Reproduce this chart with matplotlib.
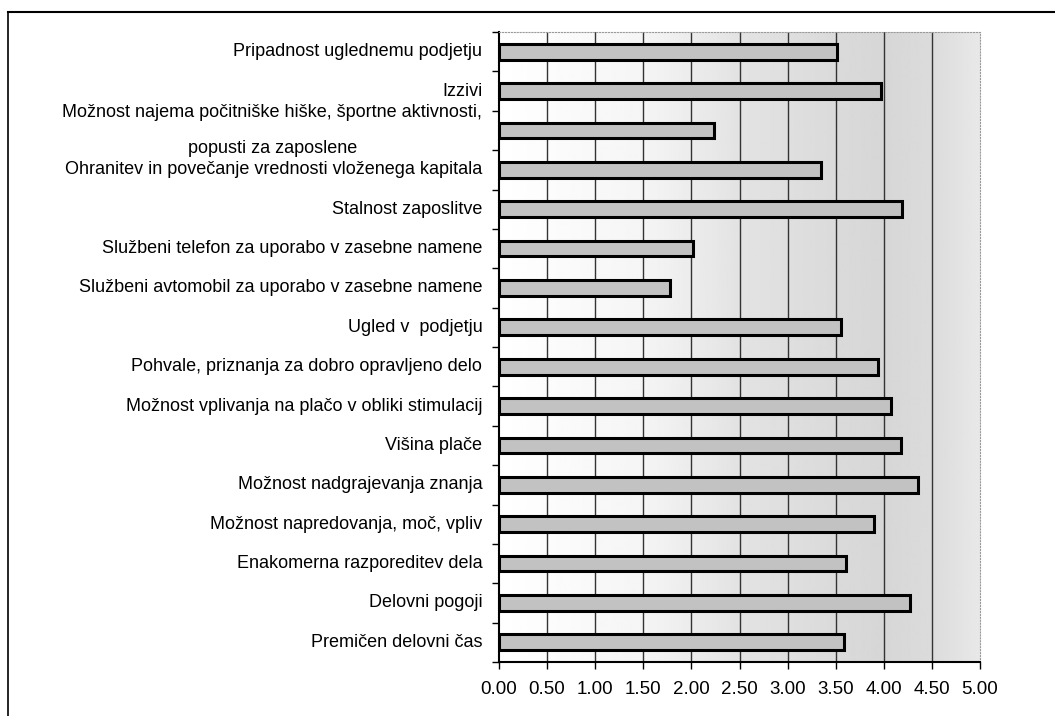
import numpy as np
import matplotlib.pyplot as plt
from matplotlib.colors import LinearSegmentedColormap
from matplotlib.lines import Line2D

plt.rcParams['font.family'] = ['Liberation Sans', 'DejaVu Sans']

# motivacijski dejavniki, od zgoraj navzdol
labels = [
    "Pripadnost uglednemu podjetju",
    "Izzivi",
    "Možnost najema počitniške hiške, športne aktivnosti,\npopusti za zaposlene",
    "Ohranitev in povečanje vrednosti vloženega kapitala",
    "Stalnost zaposlitve",
    "Službeni telefon za uporabo v zasebne namene",
    "Službeni avtomobil za uporabo v zasebne namene",
    "Ugled v  podjetju",
    "Pohvale, priznanja za dobro opravljeno delo",
    "Možnost vplivanja na plačo v obliki stimulacij",
    "Višina plače",
    "Možnost nadgrajevanja znanja",
    "Možnost napredovanja, moč, vpliv",
    "Enakomerna razporeditev dela",
    "Delovni pogoji",
    "Premičen delovni čas",
]
values = [3.51, 3.97, 2.23, 3.35, 4.19, 2.02, 1.78, 3.55,
          3.94, 4.07, 4.18, 4.36, 3.90, 3.61, 4.27, 3.59]
xticks = [0.0, 0.5, 1.0, 1.5, 2.0, 2.5, 3.0, 3.5, 4.0, 4.5, 5.0]

fig = plt.figure(figsize=(10.55, 7.16), dpi=100)
ax = fig.add_axes([499 / 1055, 54 / 716, 481 / 1055, 630 / 716])

n = len(labels)
y = np.arange(n)

# sivo ozadje, proti desni temnejše
gx = np.linspace(0, 5, 200)
shade = np.interp(gx, [0, 1.5, 2.5, 4.0, 4.5, 5.0], [1.0, 0.96, 0.89, 0.84, 0.86, 0.91])
cmap = LinearSegmentedColormap.from_list("bg", ["black", "white"])
ax.imshow(shade[np.newaxis, :], aspect="auto", cmap=cmap, vmin=0, vmax=1,
          extent=[0, 5, n - 0.5, -0.5], zorder=0, interpolation="bilinear")

for xv in xticks[1:-1]:
    ax.axvline(xv, color="#333333", lw=1.0, zorder=1)

ax.barh(y, values, height=0.4, color="#c2c2c2", edgecolor="black", lw=2.2, zorder=2)

ax.set_xlim(0, 5)
ax.set_ylim(n - 0.5, -0.5)

ax.set_xticks(xticks)
ax.set_xticklabels([f"{v:.2f}" for v in xticks], fontsize=13.5)
ax.tick_params(axis="x", direction="out", length=5, width=1, pad=9)

ax.set_yticks(y)
ax.set_yticklabels(labels, fontsize=13)
ax.tick_params(axis="y", which="major", length=0, pad=12)
ax.set_yticks(np.arange(n + 1) - 0.5, minor=True)
ax.tick_params(axis="y", which="minor", direction="out", length=5, width=1)
for t in ax.get_yticklabels():
    t.set_multialignment("center")
    t.set_verticalalignment("center")
    t.set_linespacing(2.5)

for side in ["left", "bottom"]:
    ax.spines[side].set_color("black")
    ax.spines[side].set_linewidth(1.5)
for side in ["top", "right"]:
    ax.spines[side].set_color("#9a9a9a")
    ax.spines[side].set_linewidth(0.8)
    ax.spines[side].set_linestyle(":")

# okvir slike
fig.add_artist(Line2D([8 / 1055, 1.0], [1 - 12 / 716, 1 - 12 / 716], color="black", lw=1.5))
fig.add_artist(Line2D([8 / 1055, 8 / 1055], [0.0, 1 - 12 / 716], color="black", lw=1.2))

fig.savefig("out.png", dpi=100)
